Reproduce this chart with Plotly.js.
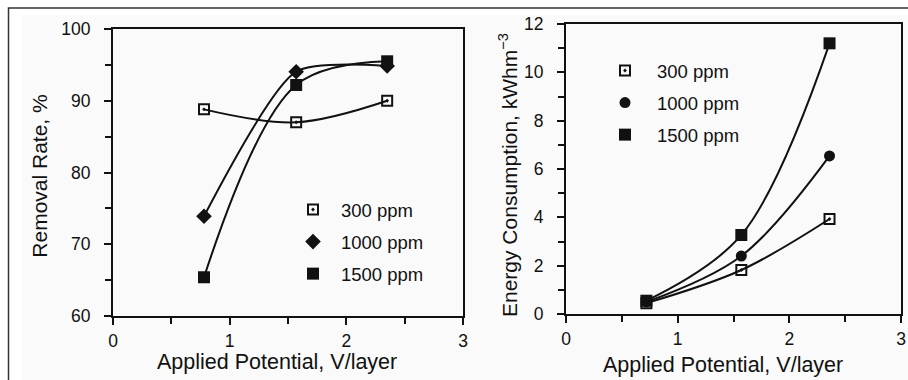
<!DOCTYPE html>
<html>
<head>
<meta charset="utf-8">
<script src="https://cdn.plot.ly/plotly-3.0.1.min.js"></script>
<style>
  html, body { margin: 0; padding: 0; background: #ffffff; }
  #chart { width: 908px; height: 380px; }
</style>
</head>
<body>
<div id="chart"></div>
<script>
// Series labels (concentration of the treated gas)
const seriesNames = ['300 ppm', '1000 ppm', '1500 ppm'];

// Left panel: removal rate (%) against applied potential (V/layer)
const removalPotential = [0.78, 1.57, 2.35];
const removal300 = [88.8, 87.0, 90.0];
const removal1000 = [73.9, 94.05, 94.85];
const removal1500 = [65.4, 92.2, 95.5];

// Right panel: energy consumption (kWh m^-3) against applied potential (V/layer)
const energyPotential = [0.72, 1.57, 2.36];
const energy300 = [0.45, 1.82, 3.93];
const energy1000 = [0.5, 2.4, 6.54];
const energy1500 = [0.55, 3.27, 11.2];

// Tick values
const potentialTicks = [0, 1, 2, 3];
const removalTicks = [60, 70, 80, 90, 100];
const energyTicks = [0, 2, 4, 6, 8, 10, 12];

const W = 908, H = 380;
const INK = '#111111';
const FONT = 'Liberation Sans, Arial, Helvetica, sans-serif';

const markerLeft = [
  { symbol: 'square-open-dot', size: 10, color: INK, line: { width: 2, color: INK } },
  { symbol: 'diamond', size: 12, color: INK, line: { width: 0 } },
  { symbol: 'square', size: 12, color: INK, line: { width: 0 } }
];
const markerRight = [
  { symbol: 'square-open-dot', size: 10, color: INK, line: { width: 2, color: INK } },
  { symbol: 'circle', size: 11, color: INK, line: { width: 0 } },
  { symbol: 'square', size: 12, color: INK, line: { width: 0 } }
];
// spline tension per curve (left panel, right panel)
const smoothLeft = [1, 0.65, 1];
const smoothRight = [1, 1, 1];

function curve(x, y, xa, ya, s) {
  return {
    x: x, y: y, xaxis: xa, yaxis: ya, type: 'scatter', mode: 'lines',
    line: { shape: 'spline', smoothing: s, width: 2, color: INK },
    showlegend: false, hoverinfo: 'skip'
  };
}
function points(x, y, xa, ya, name, marker, legendId) {
  return {
    x: x, y: y, xaxis: xa, yaxis: ya, type: 'scatter', mode: 'markers',
    name: name, marker: marker, legend: legendId, legendgroup: legendId + name,
    showlegend: true
  };
}

const leftY = [removal300, removal1000, removal1500];
const rightY = [energy300, energy1000, energy1500];
const traces = [];
leftY.forEach(function (ys, i) { traces.push(curve(removalPotential, ys, 'x', 'y', smoothLeft[i])); });
rightY.forEach(function (ys, i) { traces.push(curve(energyPotential, ys, 'x2', 'y2', smoothRight[i])); });
leftY.forEach(function (ys, i) {
  traces.push(points(removalPotential, ys, 'x', 'y', seriesNames[i], markerLeft[i], 'legend'));
});
rightY.forEach(function (ys, i) {
  traces.push(points(energyPotential, ys, 'x2', 'y2', seriesNames[i], markerRight[i], 'legend2'));
});

function axisStyle(extra) {
  return Object.assign({
    showline: true, linewidth: 2, linecolor: INK, mirror: true,
    ticks: 'outside', ticklen: 7, tickwidth: 2, tickcolor: INK,
    showgrid: false, zeroline: false, fixedrange: true,
    tickfont: { family: FONT, size: 17.5, color: INK },
    ticklabelstandoff: 1
  }, extra);
}

const px = function (v) { return v / W; };
const py = function (v) { return 1 - v / H; };

const legendStyle = {
  font: { family: FONT, size: 18.5, color: INK },
  bgcolor: 'rgba(0,0,0,0)', borderwidth: 0,
  xanchor: 'left', yanchor: 'top', tracegroupgap: 5,
  traceorder: 'grouped'
};

const layout = {
  width: W, height: H,
  margin: { l: 0, r: 0, t: 0, b: 0, pad: 0 },
  paper_bgcolor: '#ffffff', plot_bgcolor: 'rgba(0,0,0,0)',
  font: { family: FONT, color: INK },
  xaxis: axisStyle({
    domain: [px(113), px(463)], range: [0, 3], anchor: 'y',
    tickvals: potentialTicks,
    minor: { dtick: 0.5, ticks: 'outside', ticklen: 6, tickwidth: 2, tickcolor: INK }
  }),
  yaxis: axisStyle({
    domain: [py(316), py(29)], range: [60, 100], anchor: 'x',
    tickvals: removalTicks, ticklabelstandoff: 10,
    minor: { dtick: 5, ticks: 'outside', ticklen: 6, tickwidth: 2, tickcolor: INK }
  }),
  xaxis2: axisStyle({
    domain: [px(566), px(901)], range: [0, 3], anchor: 'y2',
    tickvals: potentialTicks,
    minor: { dtick: 0.5, ticks: 'outside', ticklen: 6, tickwidth: 2, tickcolor: INK }
  }),
  yaxis2: axisStyle({
    domain: [py(314), py(24)], range: [0, 12], anchor: 'x2',
    tickvals: energyTicks, ticklabelstandoff: 10,
    minor: { dtick: 1, ticks: 'outside', ticklen: 6, tickwidth: 2, tickcolor: INK }
  }),
  legend: Object.assign({}, legendStyle, { x: px(285), y: py(191), itemwidth: 46 }),
  legend2: Object.assign({}, legendStyle, { x: px(593), y: py(52), itemwidth: 54 }),
  shapes: [
    // faint page tone behind both panels
    { type: 'rect', xref: 'paper', yref: 'paper', layer: 'below',
      x0: px(22), x1: 1.02, y0: -0.05, y1: py(15),
      fillcolor: '#fafafa', line: { width: 0 } },
    // outer frame around the figure
    { type: 'rect', xref: 'paper', yref: 'paper', layer: 'below',
      x0: px(8.5), x1: 1.05, y0: -0.05, y1: py(8),
      fillcolor: 'rgba(0,0,0,0)', line: { width: 1.5, color: '#333333' } }
  ],
  annotations: [
    { text: 'Applied Potential, V/layer', xref: 'paper', yref: 'paper',
      x: px(276.7), y: py(362), xanchor: 'center', yanchor: 'middle', showarrow: false,
      font: { family: FONT, size: 21.5, color: INK } },
    { text: 'Applied Potential, V/layer', xref: 'paper', yref: 'paper',
      x: px(722.7), y: py(365), xanchor: 'center', yanchor: 'middle', showarrow: false,
      font: { family: FONT, size: 21.5, color: INK } },
    { text: 'Removal Rate, %', xref: 'paper', yref: 'paper', textangle: -90,
      x: px(40), y: py(176.7), xanchor: 'center', yanchor: 'middle', showarrow: false,
      font: { family: FONT, size: 21, color: INK } },
    { text: 'Energy Consumption, kWhm<sup>\u22123</sup>', xref: 'paper', yref: 'paper', textangle: -90,
      x: px(508), y: py(175), xanchor: 'center', yanchor: 'middle', showarrow: false,
      font: { family: FONT, size: 21, color: INK } }
  ]
};

Plotly.newPlot('chart', traces, layout, { staticPlot: true, displayModeBar: false });
</script>
</body>
</html>
